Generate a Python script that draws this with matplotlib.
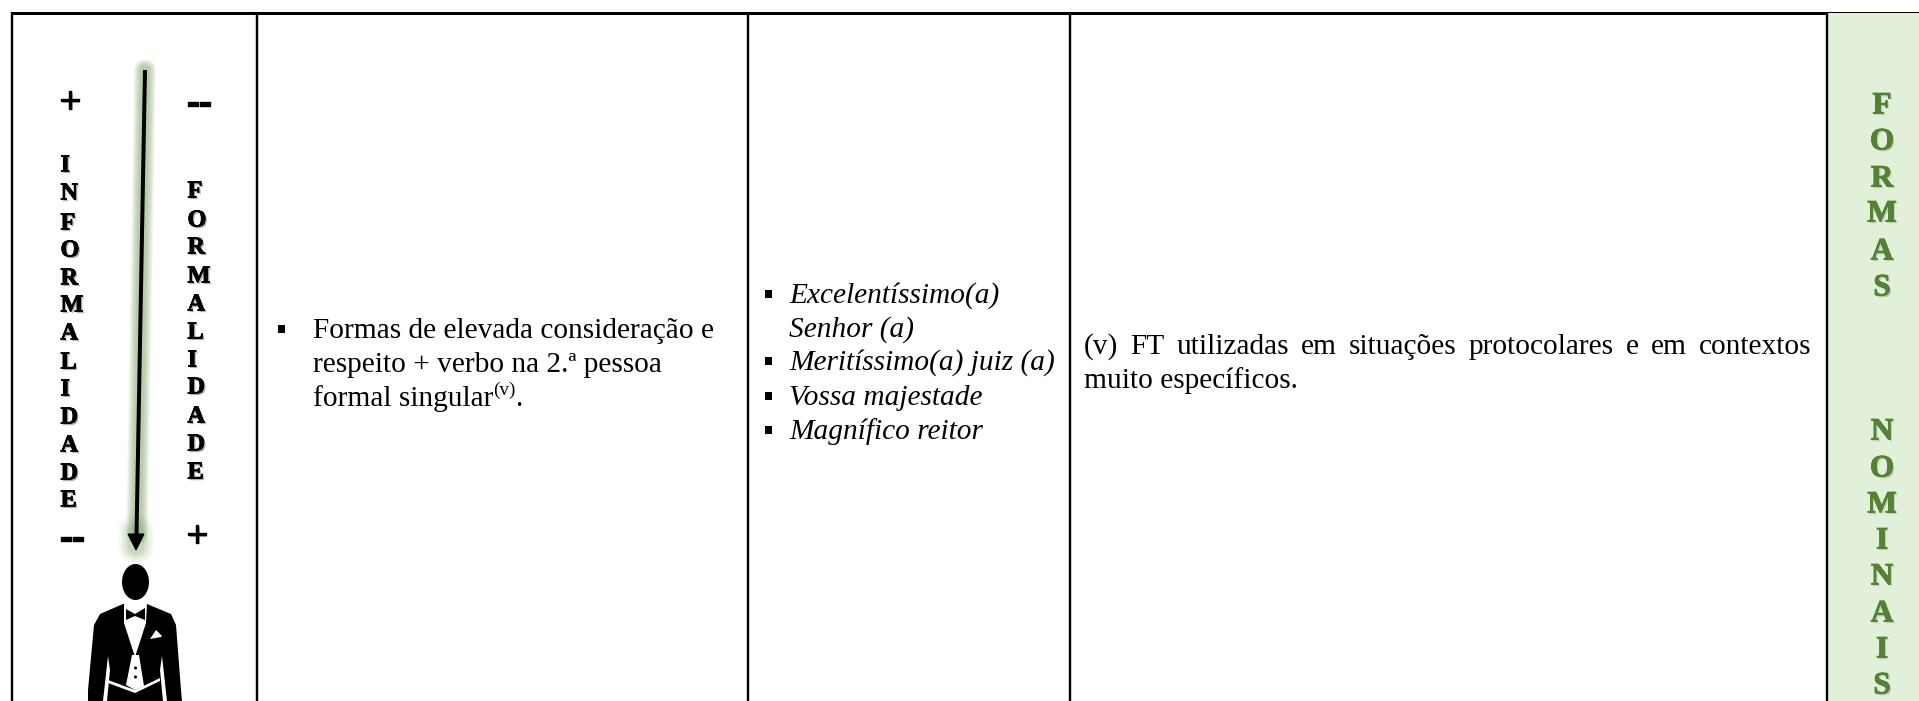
import matplotlib
matplotlib.use("Agg")
import matplotlib.pyplot as plt
import matplotlib.patheffects as pe
from matplotlib.patches import Ellipse, Polygon, Rectangle

W, H = 1919, 701
PX = 0.72  # points per pixel at dpi 100

informalidade = list("INFORMALIDADE")
informalidade_y = [166, 194, 224, 251, 279, 306, 334, 363, 390, 418, 446, 474, 501]
formalidade = list("FORMALIDADE")
formalidade_y = [192, 221, 248, 277, 305, 333, 361, 388, 417, 445, 473]
formas = list("FORMAS")
formas_y = [106, 142, 179, 214, 252, 288]
nominais = list("NOMINAIS")
nominais_y = [432, 469, 505, 541, 577, 614, 650, 686]
col_lines = [12, 257, 748, 1070, 1827]

col2_lines = ["Formas de elevada consideração e", "respeito + verbo na 2.ª pessoa", "formal singular"]
col2_base = [338, 372, 406]
col3_lines = ["Excelentíssimo(a)", "Senhor (a)", "Meritíssimo(a) juiz (a)", "Vossa majestade", "Magnífico reitor"]
col3_base = [303, 337, 370, 405, 439]
col3_bullet = [True, False, True, True, True]
col4_lines = ["(v) FT utilizadas em situações protocolares e em contextos", "muito específicos."]
col4_base = [354, 388]

fig = plt.figure(figsize=(W / 100, H / 100), dpi=100, facecolor="white")
ax = fig.add_axes([0, 0, 1, 1])
ax.set_xlim(0, W)
ax.set_ylim(H, 0)
ax.axis("off")

SERIF = "Liberation Serif"
BODY = 21.2

# green side panel and table rules
ax.add_patch(Rectangle((1827, 12), W - 1827, H, fc="#E2EFD9", ec="none", zorder=0))
ax.plot([12, 1827], [12.5, 12.5], color="black", lw=3 * PX, solid_capstyle="butt", zorder=3)
ax.plot([1827, W], [11.5, 11.5], color="black", lw=1 * PX, solid_capstyle="butt", zorder=3)
for x in col_lines:
    ax.plot([x, x], [12, H], color="black", lw=2.4 * PX, solid_capstyle="butt", zorder=3)


def letters(chars, ys, x, size, color, shadow, ha):
    for c, y in zip(chars, ys):
        ax.text(x, y, c, family=SERIF, weight="bold", fontsize=size, color=color,
                ha=ha, va="center", zorder=5,
                path_effects=[pe.withSimplePatchShadow(offset=(1.2, -1.2), shadow_rgbFace=shadow, alpha=0.45),
                              pe.Stroke(linewidth=0.6, foreground=color), pe.Normal()])


letters(informalidade, informalidade_y, 60.5, 17.5, "black", "#555555", "left")
letters(formalidade, formalidade_y, 187.5, 17.5, "black", "#555555", "left")
letters(formas, formas_y, 1882, 22.5, "#538135", "#9aa98c", "center")
letters(nominais, nominais_y, 1882, 22.5, "#538135", "#9aa98c", "center")

for x, y, s in [(70, 103, "+"), (199, 104, "--"), (72, 539, "--"), (197, 537, "+")]:
    ax.text(x, y, s, family=SERIF, weight="bold", fontsize=27 if s == "+" else 26, color="black",
            ha="center", va="center", zorder=5,
            path_effects=[pe.withSimplePatchShadow(offset=(1.2, -1.2), shadow_rgbFace="#555555", alpha=0.45),
                          pe.Stroke(linewidth=1.0, foreground="black"), pe.Normal()])

# arrow with soft green glow
for w, a in [(22, .07), (20, .09), (18, .11), (16, .13), (13, .15), (10, .18)]:
    ax.plot([145, 137], [70, 535], color="#7EA868", alpha=a, lw=w * PX,
            solid_capstyle="round", zorder=1)
for w, a in [(36, .06), (31, .08), (26, .10), (21, .12), (16, .14)]:
    ax.plot([136, 136], [532, 546], color="#7EA868", alpha=a, lw=w * PX,
            solid_capstyle="round", zorder=1)
ax.plot([145, 136.5], [70, 535], color="black", lw=4 * PX, solid_capstyle="butt", zorder=4)
ax.add_patch(Polygon([(128, 534), (144, 534), (136, 550)], fc="black", ec="black", lw=0.8, zorder=4))

# figure in a dress coat
ax.add_patch(Ellipse((135.5, 582), 27, 36, fc="black", ec="none", zorder=4))
ax.add_patch(Polygon([(123, 604), (100, 614), (94, 625), (88, 690), (88, 701), (182, 701), (181, 690),
                      (176, 625), (171, 614), (147, 604)], fc="black", ec="none", zorder=4))
ax.add_patch(Polygon([(124, 603), (147, 603), (146, 623), (135, 657), (124, 623)],
                     fc="white", ec="none", zorder=5))
ax.add_patch(Polygon([(132, 655), (139, 655), (144, 686), (135, 690), (126, 685)],
                     fc="white", ec="none", zorder=5))
ax.add_patch(Polygon([(108, 680), (135, 690), (160, 678), (160, 681), (135, 693), (108, 683)],
                     fc="white", ec="none", zorder=5))
ax.add_patch(Polygon([(108, 656), (103, 701), (107, 701), (110, 670)], fc="white", ec="none", zorder=5))
ax.add_patch(Polygon([(162, 656), (167, 701), (163, 701), (160, 670)], fc="white", ec="none", zorder=5))
ax.add_patch(Polygon([(126, 609), (135, 614), (145, 608), (145, 620), (135, 616), (126, 620)],
                     fc="black", ec="none", zorder=6))
ax.add_patch(Polygon([(150, 639), (156, 630), (162, 636), (161, 637)], fc="white", ec="none", zorder=6))
for y in [668, 677]:
    ax.add_patch(Ellipse((135.5, y), 3, 3, fc="black", ec="none", zorder=6))

fig.canvas.draw()
renderer = fig.canvas.get_renderer()


def width(t):
    return t.get_window_extent(renderer).width


def bullet(x, base):
    ax.add_patch(Rectangle((x, base - 13), 7, 8, fc="black", ec="none", zorder=5))


for s, b in zip(col2_lines, col2_base):
    t = ax.text(313, b, s, family=SERIF, fontsize=BODY, va="baseline", ha="left", color="black", zorder=5)
    last = t
bullet(278, col2_base[0])
x_end = 313 + width(last)
sup = ax.text(x_end, col2_base[2] - 11, "(v)", family=SERIF, fontsize=BODY * 0.65, va="baseline", ha="left", color="black")
ax.text(x_end + width(sup) - 1, col2_base[2], ".", family=SERIF, fontsize=BODY, va="baseline", ha="left", color="black")

for s, b, f in zip(col3_lines, col3_base, col3_bullet):
    ax.text(789, b, s, family=SERIF, style="italic", fontsize=BODY, va="baseline", ha="left", color="black", zorder=5)
    if f:
        bullet(765, b)

# first line of column four is justified between the cell margins
words = col4_lines[0].split()
L, R = 1084, 1811
ts = [ax.text(0, col4_base[0], w, family=SERIF, fontsize=BODY, va="baseline", ha="left", color="black") for w in words]
ws = [width(t) for t in ts]
gap = (R - L - sum(ws)) / (len(words) - 1)
x = L
for t, w_ in zip(ts, ws):
    t.set_x(x)
    x += w_ + gap
ax.text(L, col4_base[1], col4_lines[1], family=SERIF, fontsize=BODY, va="baseline", ha="left", color="black")

fig.savefig("out.png", dpi=100, facecolor="white")
